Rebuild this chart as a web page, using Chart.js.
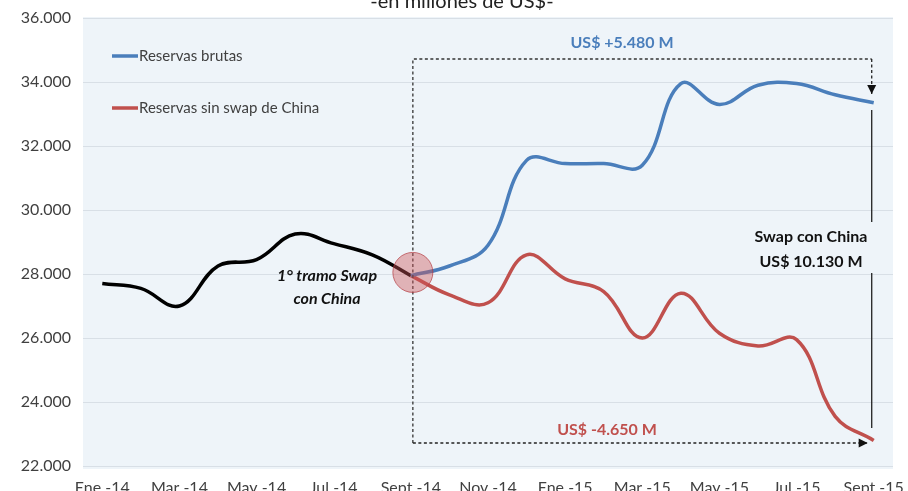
<!DOCTYPE html>
<html>
<head>
<meta charset="utf-8">
<script src="https://cdn.jsdelivr.net/npm/chart.js@4.4.1/dist/chart.umd.min.js"></script>
<style>
  html, body { margin: 0; padding: 0; background: #fff; }
  #wrap { width: 908px; height: 491px; }
</style>
</head>
<body>
<div id="wrap"><canvas id="chart" width="908" height="491"></canvas></div>
<script>
'use strict';

// monthly, Ene-14 .. Sept-15
var months = ['Ene -14', 'Feb -14', 'Mar -14', 'Abr -14', 'May -14', 'Jun -14', 'Jul -14', 'Ago -14', 'Sept -14',
    'Oct -14', 'Nov -14', 'Dic -14', 'Ene -15', 'Feb -15', 'Mar -15', 'Abr -15', 'May -15', 'Jun -15', 'Jul -15',
    'Ago -15', 'Sept -15'];

var reservasPrevias = [27700, 27550, 27000, 28250, 28450, 29250, 28950, 28600, 27950,
    null, null, null, null, null, null, null, null, null, null, null, null];

var reservasBrutas = [null, null, null, null, null, null, null, null, 27950,
    28250, 28900, 31550, 31450, 31450, 31400, 33950, 33300, 33900, 33950, 33600, 33350];

var reservasSinSwap = [null, null, null, null, null, null, null, null, 27950,
    27350, 27100, 28600, 27850, 27450, 26000, 27400, 26150, 25750, 25950, 23550, 22800];

var yTicks = [22000, 24000, 26000, 28000, 30000, 32000, 34000, 36000];

var BLUE = '#4a7ebb';
var RED = '#c0504d';
var FONT = 'Lato, "Open Sans", sans-serif';

var formatMiles = function(v) {
    return String(v).replace(/\B(?=(\d{3})+(?!\d))/g, '.');
};

var plotBackground = {
    id: 'plotBackground',
    beforeDraw: function(chart) {
        var ctx = chart.ctx;
        var a = chart.chartArea;
        ctx.save();
        ctx.fillStyle = '#eef4f9';
        ctx.fillRect(a.left, a.top - 1, a.right - a.left, a.bottom - a.top + 4);
        ctx.restore();
    }
};

var dottedArrow = function(ctx, x1, y1, x2, y2) {
    ctx.save();
    ctx.strokeStyle = '#222';
    ctx.fillStyle = '#111';
    ctx.lineWidth = 1.3;
    ctx.setLineDash([3, 2.5]);
    ctx.beginPath();
    ctx.moveTo(x1, y1);
    ctx.lineTo(x2, y2);
    ctx.stroke();
    ctx.setLineDash([]);
    var ang = Math.atan2(y2 - y1, x2 - x1);
    ctx.translate(x2, y2);
    ctx.rotate(ang);
    ctx.beginPath();
    ctx.moveTo(0, 0);
    ctx.lineTo(-9, -4.5);
    ctx.lineTo(-9, 4.5);
    ctx.closePath();
    ctx.fill();
    ctx.restore();
};

var annotations = {
    id: 'annotations',
    afterDatasetsDraw: function(chart) {
        var ctx = chart.ctx;
        var xs = chart.scales.x;
        var ys = chart.scales.y;
        var xStart = xs.getPixelForValue(8) + 2;
        var xEnd = xs.getPixelForValue(20) - 2;
        var yTop = 59;
        var yBottom = 443;

        // box of the period after the swap
        ctx.save();
        ctx.strokeStyle = '#333';
        ctx.lineWidth = 1.3;
        ctx.setLineDash([3, 2.5]);
        ctx.beginPath();
        ctx.moveTo(xStart, yBottom);
        ctx.lineTo(xStart, yTop);
        ctx.lineTo(xEnd, yTop);
        ctx.stroke();
        ctx.restore();
        dottedArrow(ctx, xEnd, yTop, xEnd, 94);
        dottedArrow(ctx, xStart, yBottom, xEnd - 4, yBottom);

        // solid line for the swap amount
        ctx.save();
        ctx.strokeStyle = '#222';
        ctx.lineWidth = 1.3;
        ctx.beginPath();
        ctx.moveTo(xEnd, 110);
        ctx.lineTo(xEnd, 222);
        ctx.moveTo(xEnd, 273);
        ctx.lineTo(xEnd, 428);
        ctx.stroke();
        ctx.restore();

        // circle at first tranche
        var cx = xs.getPixelForValue(8) + 2;
        var cy = ys.getPixelForValue(28050);
        ctx.save();
        ctx.beginPath();
        ctx.arc(cx, cy, 20, 0, Math.PI * 2);
        ctx.fillStyle = 'rgba(205, 85, 90, 0.42)';
        ctx.fill();
        ctx.strokeStyle = 'rgba(180, 60, 65, 0.7)';
        ctx.lineWidth = 1;
        ctx.stroke();
        ctx.restore();

        ctx.save();
        ctx.textAlign = 'center';
        ctx.textBaseline = 'middle';
        ctx.font = 'bold 16px ' + FONT;
        ctx.fillStyle = BLUE;
        ctx.fillText('US$ +5.480 M', 622, 43);
        ctx.fillStyle = RED;
        ctx.fillText('US$ -4.650 M', 607, 430);
        ctx.fillStyle = '#111';
        ctx.fillText('Swap con China', 811, 237);
        ctx.fillText('US$ 10.130 M', 811, 262);
        ctx.font = 'italic bold 16px ' + FONT;
        ctx.fillText('1° tramo Swap', 327, 276);
        ctx.fillText('con China', 327, 299);
        ctx.restore();

        // legend inside the plot
        var items = [
            { label: 'Reservas brutas', color: BLUE, y: 56 },
            { label: 'Reservas sin swap de China', color: RED, y: 108 }
        ];
        ctx.save();
        ctx.font = '15px ' + FONT;
        ctx.textBaseline = 'middle';
        ctx.textAlign = 'left';
        items.forEach(function(it) {
            ctx.strokeStyle = it.color;
            ctx.lineWidth = 3.5;
            ctx.beginPath();
            ctx.moveTo(112, it.y);
            ctx.lineTo(138, it.y);
            ctx.stroke();
            ctx.fillStyle = '#404040';
            ctx.fillText(it.label, 139, it.y);
        });
        ctx.restore();

        // subtitle, cut at the top edge
        ctx.save();
        ctx.font = '20px ' + FONT;
        ctx.fillStyle = '#222';
        ctx.textAlign = 'center';
        ctx.textBaseline = 'alphabetic';
        ctx.fillText('-en millones de US$-', 462, 8);
        ctx.restore();
    }
};

var lineDataset = function(label, data, color) {
    return {
        label: label,
        data: data,
        borderColor: color,
        backgroundColor: color,
        borderWidth: 3.5,
        pointRadius: 0,
        tension: 0.4,
        spanGaps: false,
        fill: false
    };
};

var config = {
    type: 'line',
    data: {
        labels: months,
        datasets: [
            lineDataset('Reservas brutas', reservasBrutas, BLUE),
            lineDataset('Reservas sin swap de China', reservasSinSwap, RED),
            lineDataset('Reservas', reservasPrevias, '#000')
        ]
    },
    options: {
        responsive: false,
        animation: false,
        layout: { padding: { top: 18, right: 15, left: 0, bottom: 0 } },
        plugins: {
            legend: { display: false },
            tooltip: { enabled: false }
        },
        scales: {
            x: {
                type: 'category',
                offset: true,
                grid: { display: false, drawTicks: false },
                border: { display: false },
                afterFit: function(scale) {
                    scale.height = 25;
                    scale.paddingLeft = 0;
                    scale.paddingRight = 0;
                },
                ticks: {
                    autoSkip: false,
                    maxRotation: 0,
                    padding: 12,
                    color: '#404040',
                    font: { family: FONT, size: 16 },
                    callback: function(v, i) {
                        return i % 2 === 0 ? months[i] : '';
                    }
                }
            },
            y: {
                min: yTicks[0],
                max: yTicks[yTicks.length - 1],
                afterFit: function(scale) {
                    scale.width = 83;
                    scale.paddingTop = 0;
                    scale.paddingBottom = 0;
                },
                afterBuildTicks: function(scale) {
                    scale.ticks = yTicks.map(function(v) { return { value: v }; });
                },
                grid: { color: '#d8dfe6', lineWidth: 1, drawTicks: false },
                border: { display: false },
                ticks: {
                    padding: 12,
                    color: '#404040',
                    font: { family: FONT, size: 16 },
                    callback: function(v) { return formatMiles(v); }
                }
            }
        }
    },
    plugins: [plotBackground, annotations]
};

new Chart(document.getElementById('chart'), config);
</script>
</body>
</html>
